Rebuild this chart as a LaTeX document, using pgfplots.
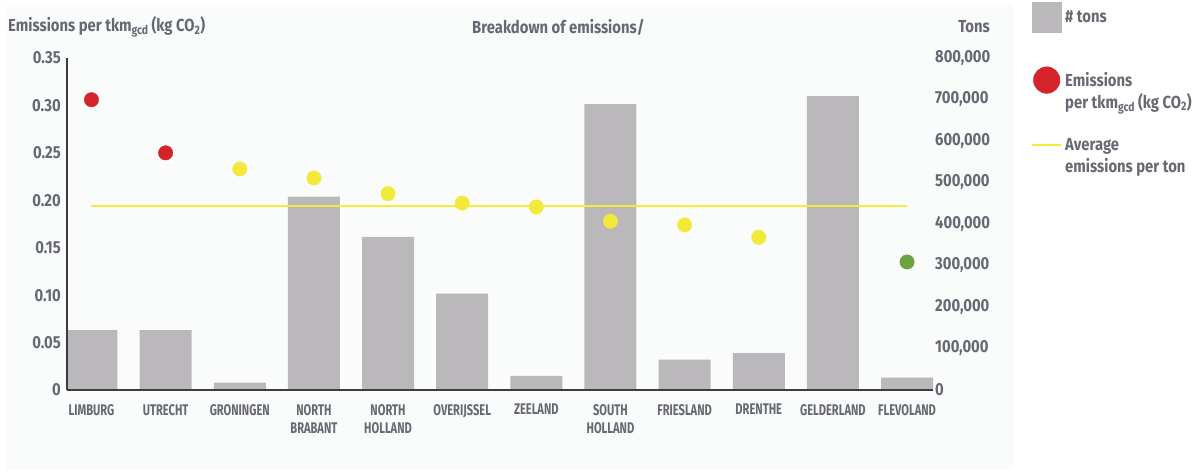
\documentclass[border=0pt]{standalone}
\usepackage{pgfplots}
\pgfplotsset{compat=1.18}
\usepackage{fontspec}
\setmainfont{Fira Sans}[FakeStretch=0.85]
\newfontfamily\condfont{Fira Sans}[FakeStretch=0.72]
\definecolor{txt}{RGB}{104,104,114}
\definecolor{bargray}{RGB}{186,184,187}
\definecolor{dotred}{RGB}{212,36,42}
\definecolor{dotyel}{RGB}{242,234,58}
\definecolor{linyel}{RGB}{244,236,60}
\definecolor{dotgreen}{RGB}{106,163,63}
\definecolor{axisgray}{RGB}{60,60,65}
\definecolor{panel}{RGB}{250,251,251}
\begin{document}
\begin{tikzpicture}
\path[use as bounding box] (0bp,0bp) rectangle (1201bp,473bp);
\fill[panel] (6bp,3bp) rectangle (1013bp,468bp);
\node[anchor=west, font=\bfseries\fontsize{17.5}{20}\selectfont, text=txt, inner sep=0pt] at (8bp,446bp) {Emissions per tkm\textsubscript{gcd}\,(kg CO\textsubscript{2})};
\node[anchor=west, font=\bfseries\fontsize{17.5}{20}\selectfont, text=txt, inner sep=0pt] at (472bp,446bp) {Breakdown of emissions/};
\node[anchor=east, font=\bfseries\fontsize{17.5}{20}\selectfont, text=txt, inner sep=0pt] at (990bp,446bp) {Tons};

\begin{axis}[at={(67bp,83bp)}, anchor=south west, scale only axis,
  width=866bp, height=332bp, xmin=-0.33, xmax=11.35, ymin=0, ymax=800000,
  hide x axis, axis y line*=right, y axis line style={draw=none},
  scaled y ticks=false,
  ytick={0,100000,200000,300000,400000,500000,600000,700000,800000},
  yticklabels={{0},{100,000},{200,000},{300,000},{400,000},{500,000},{600,000},{700,000},{800,000}},
  major tick length=0pt,
  yticklabel style={anchor=west, inner sep=0pt, xshift=2bp, font=\bfseries\fontsize{17.5}{20}\selectfont, text=txt},
  ybar, bar width=52bp]
\addplot[fill=bargray, draw=none] coordinates {
(0,144000) (1,144000) (2,18000) (3,466000) (4,369000) (5,232000)
(6,34000) (7,689000) (8,73000) (9,89000) (10,708000) (11,30000)};
\end{axis}

\begin{axis}[at={(67bp,83bp)}, anchor=south west, scale only axis,
  width=866bp, height=332bp, xmin=-0.33, xmax=11.35, ymin=0, ymax=0.35,
  axis x line*=bottom, axis y line*=left,
  axis line style={-, axisgray, line width=1.3bp},
  major tick length=0pt,
  xtick={0,1,2,3,4,5,6,7,8,9,10,11},
  xticklabels={LIMBURG, UTRECHT, GRONINGEN, {NORTH\\BRABANT}, {NORTH\\HOLLAND}, OVERIJSSEL, ZEELAND, {SOUTH\\HOLLAND}, FRIESLAND, DRENTHE, GELDERLAND, FLEVOLAND},
  xticklabel style={align=center, anchor=north, inner sep=0pt, yshift=-14bp, font=\condfont\bfseries\fontsize{15.5}{18.5}\selectfont, text=txt},
  ytick={0,0.05,0.1,0.15,0.2,0.25,0.3,0.35},
  yticklabels={0,0.05,0.10,0.15,0.20,0.25,0.30,0.35},
  yticklabel style={anchor=east, inner sep=0pt, xshift=-6bp, font=\bfseries\fontsize{17.5}{20}\selectfont, text=txt},
  legend style={at={(1.1132,1.1687)}, anchor=north west, draw=none, fill=none,
    inner sep=0pt, row sep=18bp, column sep=0pt,
    font=\bfseries\fontsize{17.5}{22}\selectfont, text=txt,
    nodes={align=left, inner sep=3pt}, cells={anchor=west}},
  legend cell align=left]
\addlegendimage{legend image code/.code={\fill[bargray] (0bp,-15bp) rectangle (29bp,15bp); \path (0bp,-31bp);}}
\addlegendentry{\# tons}
\addplot[only marks, mark=*, mark size=7.2bp, color=dotred,
  legend image code/.code={\fill[dotred] (14.5bp,11bp) circle (13.3bp); \path (0bp,-26bp);}]
  coordinates {(0,0.306) (1,0.250)};
\addlegendentry{Emissions\\per tkm\textsubscript{gcd}\,(kg CO\textsubscript{2})}
\addplot[only marks, mark=*, mark size=7.2bp, color=dotyel, forget plot]
  coordinates {(2,0.233) (3,0.2235) (4,0.207) (5,0.197) (6,0.193) (7,0.178) (8,0.174) (9,0.161)};
\addplot[only marks, mark=*, mark size=7.2bp, color=dotgreen, forget plot]
  coordinates {(11,0.135)};
\addplot[linyel, line width=2bp,
  legend image code/.code={\draw[linyel, line width=2bp] (0bp,11bp) -- (29bp,11bp);}]
  coordinates {(0,0.194) (11,0.194)};
\addlegendentry{Average\\emissions per ton}
\end{axis}
\end{tikzpicture}
\end{document}
